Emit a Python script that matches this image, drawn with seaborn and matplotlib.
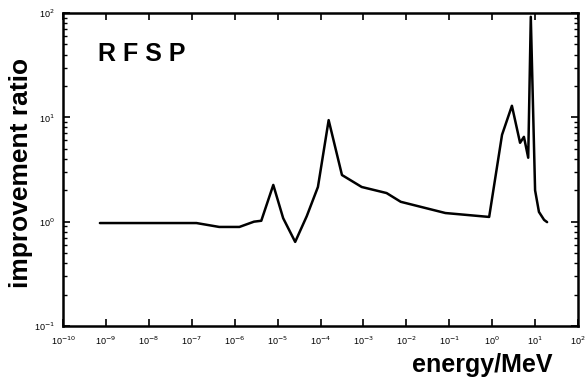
import numpy as np
import pandas as pd
import matplotlib
matplotlib.use("Agg")
import matplotlib.pyplot as plt
import matplotlib.ticker as mticker
import seaborn as sns

# data (log10 energy/MeV, improvement ratio)
log_energy = [-9.14, -6.89, -6.36, -5.89, -5.55, -5.38, -5.10, -4.87, -4.59, -4.32,
              -4.06, -3.81, -3.50, -3.04, -2.46, -2.13, -1.09, -0.07, 0.23, 0.46,
              0.65, 0.74, 0.84, 0.90, 1.00, 1.09, 1.21, 1.28]
ratio = [0.97, 0.97, 0.89, 0.89, 1.00, 1.02, 2.25, 1.08, 0.64, 1.13,
         2.15, 9.4, 2.8, 2.15, 1.88, 1.55, 1.21, 1.11, 6.8, 12.9,
         5.7, 6.5, 4.1, 92.0, 2.0, 1.24, 1.04, 0.99]
x_tick_exps = list(range(-10, 3))
y_tick_exps = [-1, 0, 1, 2]
title_text = "R F S P"
x_label = "energy/MeV"
y_label = "improvement ratio"

df = pd.DataFrame({"energy": np.power(10.0, log_energy), "ratio": ratio})

sns.set_style("ticks")
plt.rcParams["font.family"] = ["Liberation Sans", "DejaVu Sans"]
plt.rcParams["text.color"] = "black"
plt.rcParams["xtick.color"] = "black"
plt.rcParams["ytick.color"] = "black"
plt.rcParams["axes.edgecolor"] = "black"

fig = plt.figure(figsize=(5.86, 3.84), dpi=100)
ax = fig.add_axes([63/586, 1-326/384, (578-63)/586, (326-13)/384])

sns.lineplot(data=df, x="energy", y="ratio", ax=ax, color="black", linewidth=1.8,
             sort=False, estimator=None)

ax.set_xscale("log")
ax.set_yscale("log")
ax.set_xlim(1e-10, 1e2)
ax.set_ylim(1e-1, 1e2)

ax.xaxis.set_major_locator(mticker.FixedLocator([10.0**e for e in x_tick_exps]))
ax.xaxis.set_minor_locator(mticker.NullLocator())
ax.set_xticklabels([f"10$^{{{e}}}$" for e in x_tick_exps], fontsize=6.5)
ax.yaxis.set_major_locator(mticker.FixedLocator([10.0**e for e in y_tick_exps]))
ax.yaxis.set_minor_locator(mticker.LogLocator(base=10, subs=np.arange(2, 10), numticks=20))
ax.yaxis.set_minor_formatter(mticker.NullFormatter())
ax.set_yticklabels([f"10$^{{{e}}}$" for e in y_tick_exps], fontsize=6.5)

ax.tick_params(axis="both", which="major", direction="in", length=5, width=1.2,
               top=True, right=True, pad=6, colors="black")
ax.tick_params(axis="y", which="minor", direction="in", length=3, width=1.0,
               left=True, right=True, colors="black")
for s in ax.spines.values():
    s.set_linewidth(1.8)
    s.set_color("black")
    s.set_visible(True)

ax.set_xlabel("")
ax.set_ylabel("")
fig.text(0.035, 0.55, y_label, rotation=90, fontsize=19, fontweight="bold",
         ha="center", va="center", color="black")
fig.text(0.823, 0.05, x_label, fontsize=18, fontweight="bold", ha="center", va="center",
         color="black")
ax.text(0.068, 0.87, title_text, transform=ax.transAxes, fontsize=18,
        fontweight="bold", ha="left", va="center", color="black")

fig.savefig("out.png", dpi=100)
